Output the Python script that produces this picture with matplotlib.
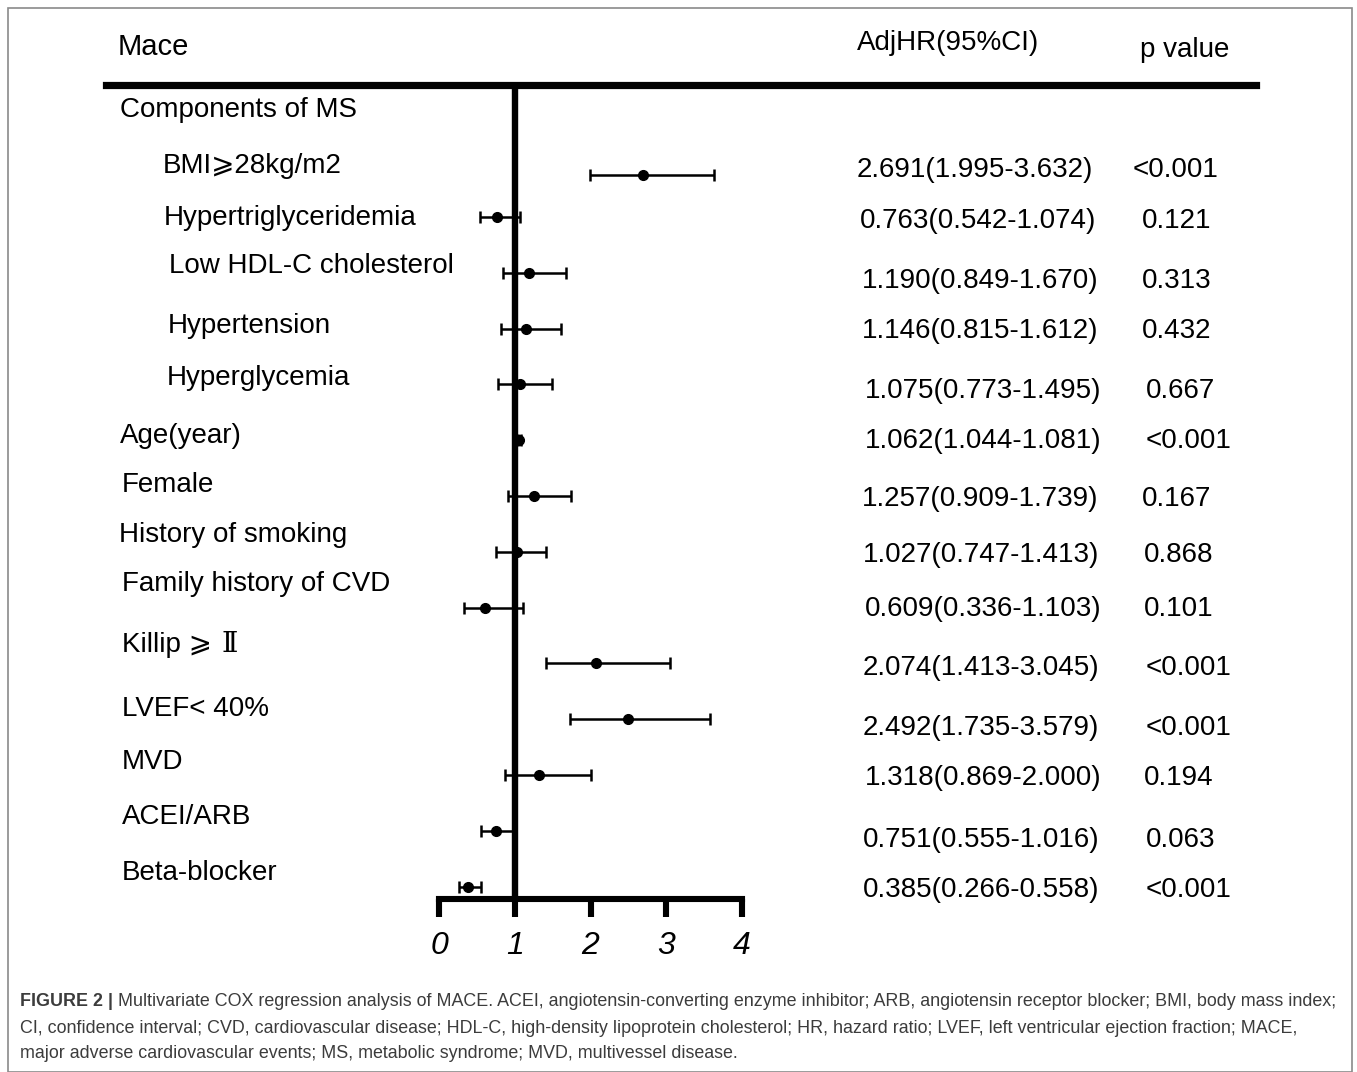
import matplotlib.pyplot as plt
from matplotlib.lines import Line2D
from matplotlib.patches import Rectangle

plt.rcParams['font.family'] = ['Liberation Sans', 'DejaVu Sans']

# ==========================================
# Multivariate Cox regression - MACE
# ==========================================

variaveis = [
    'BMI⩾28kg/m2', 'Hypertriglyceridemia', 'Low HDL-C cholesterol',
    'Hypertension', 'Hyperglycemia', 'Age(year)', 'Female',
    'History of smoking', 'Family history of CVD', 'Killip ⩾ Ⅱ',
    'LVEF< 40%', 'MVD', 'ACEI/ARB', 'Beta-blocker'
]
hr = [2.691, 0.763, 1.190, 1.146, 1.075, 1.062, 1.257,
      1.027, 0.609, 2.074, 2.492, 1.318, 0.751, 0.385]
ic_inf = [1.995, 0.542, 0.849, 0.815, 0.773, 1.044, 0.909,
          0.747, 0.336, 1.413, 1.735, 0.869, 0.555, 0.266]
ic_sup = [3.632, 1.074, 1.670, 1.612, 1.495, 1.081, 1.739,
          1.413, 1.103, 3.045, 3.579, 2.000, 1.016, 0.558]
p_valores = ['<0.001', '0.121', '0.313', '0.432', '0.667', '<0.001', '0.167',
             '0.868', '0.101', '<0.001', '<0.001', '0.194', '0.063', '<0.001']
ticks_x = [0, 1, 2, 3, 4]

# layout (pixels of the 1357x1072 canvas)
W, H = 1357, 1072
linhas = [0.25] + list(range(1, 14))
rot_x = [163, 164, 169, 168, 167, 120, 122, 119, 122, 122, 122, 122, 122, 122]
rot_y = [163, 215, 263, 323, 375, 433, 482, 532, 581, 642, 706, 759, 814, 870]
est_x = [857, 860, 862, 862, 865, 865, 862, 863, 865, 863, 863, 865, 863, 863]
est_y = [167, 218, 278, 328, 388, 438, 496, 552, 606, 665, 725, 775, 837, 887]
p_x = [1133, 1142, 1142, 1142, 1146, 1146, 1142, 1144, 1144, 1146, 1146, 1144, 1146, 1146]

fig = plt.figure(figsize=(W / 100, H / 100), dpi=100)
r = fig.canvas.get_renderer()


def texto(x, y, s, size=20, **kw):
    # y is the visual middle of the capitals
    base = y + 0.358 * size * 100 / 72
    return fig.text(x / W, 1 - base / H, s, fontsize=size, va='baseline', **kw)


# frame around the figure
fig.add_artist(Rectangle((8 / W, 0), (1352 - 8) / W, 1 - 8 / H,
                         transform=fig.transFigure, fill=False,
                         edgecolor='#8a8a8a', linewidth=1.2))

# forest plot
topo, base = 85, 899
ax = fig.add_axes([439 / W, 1 - base / H, (742 - 439) / W, (base - topo) / H])
ax.set_xlim(0, 4)
ax.set_ylim((base - 217) / 55.8 + 1, (topo - 217) / 55.8 + 1)

ax.errorbar(hr, linhas,
            xerr=[[h - l for h, l in zip(hr, ic_inf)],
                  [u - h for h, u in zip(hr, ic_sup)]],
            fmt='o', color='black', markersize=7, elinewidth=1.8,
            capsize=4, capthick=1.8, clip_on=False, zorder=3)
ax.axvline(1, color='black', linewidth=4.6, zorder=2)

for lado in ['top', 'right', 'left']:
    ax.spines[lado].set_visible(False)
ax.spines['bottom'].set_linewidth(4.4)
ax.spines['bottom'].set_capstyle('projecting')
ax.set_yticks([])
ax.set_xticks(ticks_x)
ax.set_xticklabels([str(t) for t in ticks_x], fontsize=23, style='italic')
ax.tick_params(axis='x', direction='out', length=13, width=4.4, pad=10)
ax.patch.set_alpha(0)

# header
texto(118, 45, 'Mace', size=21)
texto(857, 40, 'AdjHR(95%CI)', size=20)
texto(1140, 47, 'p value', size=20)
fig.add_artist(Line2D([106 / W, 1256 / W], [1 - topo / H, 1 - topo / H],
                      transform=fig.transFigure, color='black', linewidth=5.2))

texto(120, 107, 'Components of MS')
for i, nome in enumerate(variaveis):
    if nome.endswith('Ⅱ'):
        # roman numeral drawn with a serif face
        t = texto(rot_x[i], rot_y[i], nome[:-1])
        texto(t.get_window_extent(r).x1 + 2, rot_y[i], 'Ⅱ', family=['DejaVu Serif'])
    else:
        texto(rot_x[i], rot_y[i], nome)
    texto(est_x[i], est_y[i], f'{hr[i]:.3f}({ic_inf[i]:.3f}-{ic_sup[i]:.3f})')
    texto(p_x[i], est_y[i], p_valores[i])

# caption
cor = '#3c3c3c'
tam = 12.9
linhas_leg = [
    'Multivariate COX regression analysis of MACE. ACEI, angiotensin-converting enzyme inhibitor; '
    'ARB, angiotensin receptor blocker; BMI, body mass index;',
    'CI, confidence interval; CVD, cardiovascular disease; HDL-C, high-density lipoprotein cholesterol; '
    'HR, hazard ratio; LVEF, left ventricular ejection fraction; MACE,',
    'major adverse cardiovascular events; MS, metabolic syndrome; MVD, multivessel disease.',
]
leg_y = [1000, 1027, 1052]
t0 = texto(20, leg_y[0], 'FIGURE 2 | ', size=tam, color=cor, fontweight='bold')
x_fim = t0.get_window_extent(r).x1
texto(x_fim, leg_y[0], linhas_leg[0], size=tam, color=cor)
texto(20, leg_y[1], linhas_leg[1], size=tam, color=cor)
texto(20, leg_y[2], linhas_leg[2], size=tam, color=cor)

fig.savefig('out.png', dpi=100)
